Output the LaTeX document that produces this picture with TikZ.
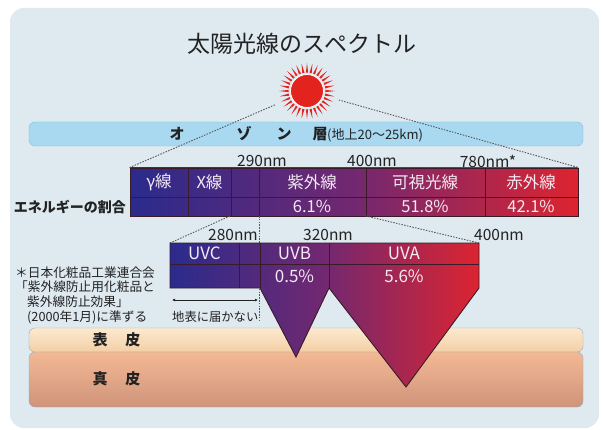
\documentclass[tikz,border=0pt]{standalone}
\usepackage{fontspec}
\setmainfont{Noto Sans CJK JP}
\usetikzlibrary{positioning,arrows.meta}
\definecolor{skyback}{RGB}{222,233,240}
\definecolor{ozonefill}{RGB}{169,217,240}
\definecolor{ozoneedge}{RGB}{128,190,225}
\definecolor{specblue}{RGB}{42,43,140}
\definecolor{specplum}{RGB}{114,40,112}
\definecolor{specred}{RGB}{220,36,48}
\definecolor{gridink}{RGB}{58,28,40}
\definecolor{cellink}{RGB}{243,234,243}
\definecolor{sunred}{RGB}{226,35,30}
\definecolor{epitop}{RGB}{252,233,207}
\definecolor{epibot}{RGB}{243,207,165}
\definecolor{dermtop}{RGB}{243,185,149}
\definecolor{dermbot}{RGB}{207,148,121}
\definecolor{skinedge}{RGB}{158,170,180}
\definecolor{inkdark}{RGB}{34,34,34}

\begin{document}
\begin{tikzpicture}[x=1pt, y=-1pt,
  title/.style={font=\fontsize{23}{26}\selectfont, text=inkdark},
  layer/.style={
    draw,
    rectangle,
    rounded corners=6pt,
    minimum width=554pt,
    inner sep=0pt
  },
  specbar/.style={
    draw=gridink,
    line width=0.9pt,
    rectangle,
    inner sep=0pt,
    left color=specblue,
    right color=specred,
    middle color=specplum
  },
  cell/.style={font=\fontsize{16.5}{18}\selectfont, text=cellink, inner sep=1pt},
  nm/.style={font=\fontsize{15.5}{17}\selectfont, text=inkdark, inner sep=1pt},
  note/.style={font=\fontsize{12.7}{15}\selectfont, text=inkdark, anchor=west, inner sep=0pt},
  heavy/.style={font=\fontsize{15}{17}\selectfont\bfseries, text=inkdark, inner sep=1pt},
  gridline/.style={draw=gridink, line width=0.9pt},
  guide/.style={draw=black!65, line width=0.9pt, dash pattern=on 1.5pt off 1.3pt}
]
\useasboundingbox (0,0) rectangle (604,430);
\fill[white] (0,0) rectangle (604,430);
\fill[skyback, rounded corners=14pt] (10,8) rectangle (599,428);

\node[title] (title) at (302,44) {太陽光線のスペクトル};

% the sun
\node[circle, fill=sunred, draw=white, line width=0.8pt, minimum size=33pt] (sun) at (307,91) {};
\foreach \a in {0,11.25,...,350}
  \fill[sunred] ([shift={({\a-3.5}:18.5)}]sun.center) -- ([shift={(\a:28)}]sun.center)
    -- ([shift={({\a+3.5}:18.5)}]sun.center) -- cycle;

% skin layers
\node[layer, draw=skinedge, minimum height=24pt, top color=epitop, bottom color=epibot] (epi) at (306,340) {};
\node[layer, draw=skinedge, minimum height=55pt, top color=dermtop, bottom color=dermbot] (derm) at (306,379.5) {};
\node[heavy] at (116.5,340) {表\hspace{1.2em}皮};
\node[heavy] at (116.5,379) {真\hspace{1.2em}皮};

% ozone layer
\node[layer, draw=ozoneedge, fill=ozonefill, minimum height=24pt] (ozone) at (306,134) {};
\node[heavy] at (177,134) {オ};
\node[heavy] at (244,134) {ゾ};
\node[heavy] at (284,134) {ン};
\node[heavy] at (320,134) {層};
\node[font=\fontsize{13}{15}\selectfont, text=inkdark, anchor=west, inner sep=0pt] at (327,135) {(地上20〜25km)};

% spectrum bar
\node[specbar, minimum width=448pt, minimum height=48pt] (spec) at (354,192) {};
\draw[guide, shorten <=35pt] (sun.center) -- (spec.north west);
\draw[guide, shorten <=33pt] (sun.center) -- (spec.north east);
\draw[gridline] (130,197) -- (578,197);
\foreach \x in {188,231,259,366,485}
  \draw[gridline] (\x,168) -- (\x,216);

\node[cell] at (159,182.5) {γ線};
\node[cell] at (209.5,182.5) {X線};
\node[cell] at (312,182.5) {紫外線};
\node[cell] at (425,182.5) {可視光線};
\node[cell] at (531,182.5) {赤外線};
\node[cell] at (312,206.5) {6.1\%};
\node[cell] at (425,206.5) {51.8\%};
\node[cell] at (531,206.5) {42.1\%};

\node[nm] at (262,161) {290nm};
\node[nm] at (372,161) {400nm};
\node[nm] at (488,161) {780nm*};
\node[font=\fontsize{14}{16}\selectfont\bfseries, text=inkdark, anchor=east, inner sep=0pt] (share) at (126,207) {エネルギーの割合};

% ultraviolet split
\coordinate (cutc) at (230,216);
\coordinate (cuta) at (366,216);
\coordinate (edge) at (259,216);
\coordinate (ground) at (259,320);
\coordinate (uvnw) at (170,243);
\coordinate (uvne) at (479,243);
\draw[guide] (cutc) -- (uvnw);
\draw[guide] (cuta) -- (uvne);
\draw[guide] (edge) -- (ground);

\shadedraw[gridline, left color=specblue, right color=specred, middle color=specplum]
  (uvnw) -- (uvne) -- (479,288) -- (406,387) -- (329,288) -- (296,357)
  -- (260,288) -- (170,288) -- cycle;
\draw[gridline] (170,264) -- (479,264);
\foreach \x in {239,260,329}
  \draw[gridline] (\x,243) -- (\x,288);

\node[cell, font=\fontsize{17}{19}\selectfont] at (204.5,253.5) {UVC};
\node[cell, font=\fontsize{17}{19}\selectfont] at (294.5,253.5) {UVB};
\node[cell, font=\fontsize{17}{19}\selectfont] at (294.5,276) {0.5\%};
\node[cell, font=\fontsize{17}{19}\selectfont] at (404,253.5) {UVA};
\node[cell, font=\fontsize{17}{19}\selectfont] at (404,276) {5.6\%};

\node[nm] at (233,235) {280nm};
\node[nm] at (328,235) {320nm};
\node[nm] at (499,235) {400nm};

\coordinate (spanl) at (172,300);
\coordinate (spanr) at (258,300);
\draw[{Latex[length=3pt,width=3pt]}-{Latex[length=3pt,width=3pt]}, draw=inkdark, line width=0.9pt] (spanl) -- (spanr);
\node[note, font=\fontsize{12.3}{14}\selectfont] (ground label) at (172,317) {地表に届かない};

% footnote
\node[note] (note1) at (15,273) {＊日本化粧品工業連合会};
\node[note] (note2) at (15,286.5) {「紫外線防止用化粧品と};
\node[note] (note3) at (27,301.5) {紫外線防止効果」};
\node[note] (note4) at (27,317) {(2000年1月)に準ずる};
\end{tikzpicture}
\end{document}
